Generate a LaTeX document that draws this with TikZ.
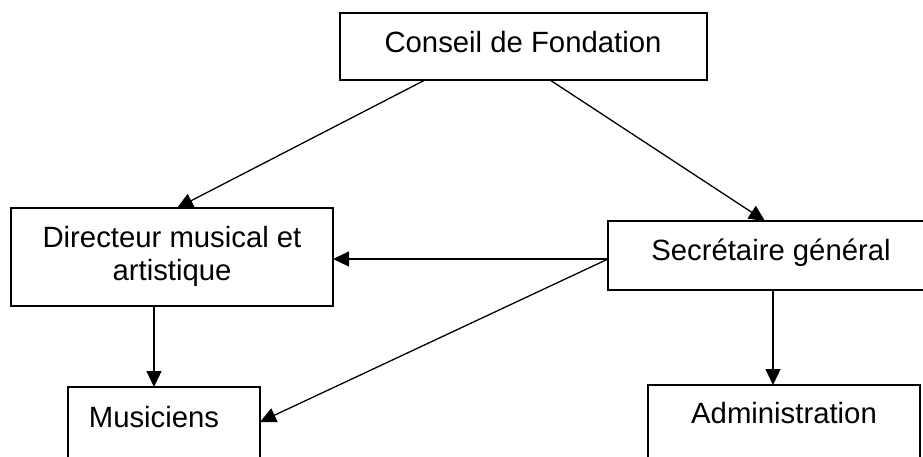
\documentclass[tikz,border=0pt]{standalone}
\usepackage{fontspec}
\setmainfont{Liberation Sans}
\usetikzlibrary{arrows.meta}
\begin{document}
\begin{tikzpicture}[x=1pt,y=-1pt,
  box/.style={draw=black,line width=1.1pt,rectangle,inner sep=0pt,outer sep=0pt},
  lbl/.style={inner sep=0pt,outer sep=0pt,anchor=base,font=\fontsize{29.3}{33}\selectfont},
  conn/.style={line width=1.3pt,-{Triangle[length=16pt,width=15pt]}}]
\useasboundingbox (0,0) rectangle (923,457);
\clip (0,0) rectangle (923,457);
\node[box,minimum width=367pt,minimum height=67pt] (conseil) at (523.5,46.5) {};
\node[box,minimum width=322pt,minimum height=98pt] (dir) at (172,257) {};
\node[box,minimum width=192pt,minimum height=90pt] (mus) at (164,432) {};
\node[box,minimum width=322pt,minimum height=69pt] (secr) at (769,255.5) {};
\node[box,minimum width=272pt,minimum height=90pt] (adm) at (784,430) {};
\node[lbl] (tc) at (523,53) {Conseil de Fondation};
\node[lbl] (td1) at (172,247) {Directeur musical et};
\node[lbl] (td2) at (172,280) {artistique};
\node[lbl] (tm) at (154,427) {Musiciens};
\node[lbl] (ts) at (771,260) {Secrétaire général};
\node[lbl] (ta) at (784,423) {Administration};
\coordinate (s) at ([yshift=-3.5pt]secr.west);
\draw[conn] ([xshift=85pt]conseil.south west) -- ([xshift=166pt]dir.north west);
\draw[conn] ([xshift=210pt]conseil.south west) -- ([xshift=157pt]secr.north west);
\draw[conn] (s) -- (s -| dir.east);
\draw[conn] (s) -- ([yshift=10pt]mus.east);
\draw[conn] ([xshift=-18pt]dir.south) -- ([xshift=-18pt]dir.south |- mus.north);
\draw[conn] ([xshift=4pt]secr.south) -- ([xshift=4pt]secr.south |- adm.north);
\end{tikzpicture}
\end{document}
